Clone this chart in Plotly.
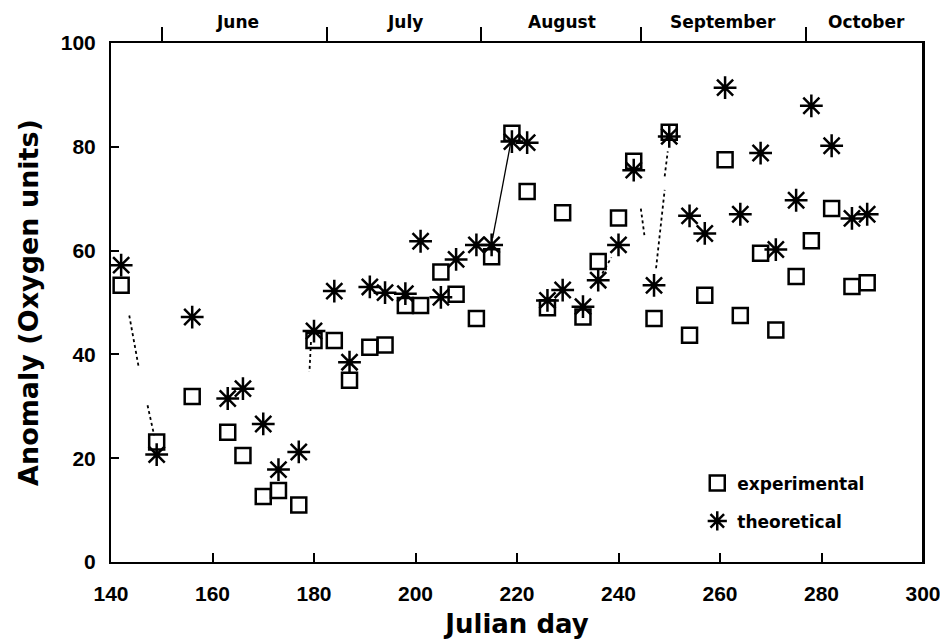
import plotly.graph_objects as go

# ---- data ----
days = [142, 149, 156, 163, 166, 170, 173, 177, 180, 184, 187, 191, 194, 198, 201,
        205, 208, 212, 215, 219, 222, 226, 229, 233, 236, 240, 243, 247, 250, 254,
        257, 261, 264, 268, 271, 275, 278, 282, 286, 289]
experimental = [53.3, 23.1, 31.9, 25.0, 20.5, 12.6, 13.8, 11.0, 42.7, 42.7, 35.0, 41.4,
                41.8, 49.4, 49.4, 55.9, 51.6, 46.9, 58.8, 82.6, 71.4, 49.0, 67.3, 47.2,
                57.9, 66.3, 77.2, 46.9, 82.8, 43.7, 51.4, 77.5, 47.5, 59.5, 44.7, 55.0,
                61.9, 68.1, 53.1, 53.8]
theoretical = [57.2, 20.7, 47.2, 31.5, 33.4, 26.6, 17.8, 21.2, 44.5, 52.2, 38.5, 53.0,
               51.9, 51.7, 61.8, 51.0, 58.3, 61.1, 61.1, 81.0, 80.8, 50.4, 52.4, 49.2,
               54.3, 61.1, 75.5, 53.3, 82.0, 66.7, 63.3, 91.4, 67.0, 78.8, 60.2, 69.7,
               87.9, 80.2, 66.2, 67.0]

# faint connecting-line fragments visible in the scan (start/end, data units)
dotted_x0 = [143.6, 147.2, 179.4, 244.4, 247.4, 249.1, 236.8]
dotted_y0 = [47.5, 30.2, 42.4, 68.1, 56.6, 74.3, 55.6]
dotted_x1 = [145.5, 148.5, 179.1, 245.1, 249.1, 249.7, 238.6]
dotted_y1 = [37.3, 24.4, 36.6, 63.0, 71.7, 79.1, 58.7]
solid_x = [215.2, 218.8]
solid_y = [62.4, 81.0]

month_names = ["June", "July", "August", "September", "October"]
month_bounds = [150, 182.5, 213, 244.5, 277]
month_label_pos = [165, 198.0, 228.8, 260.5, 288.9]

x_ticks = [140, 160, 180, 200, 220, 240, 260, 280, 300]
y_ticks = [0, 20, 40, 60, 80, 100]

NUMFONT = "Liberation Sans"
TXTFONT = "DejaVu Sans"
fig = go.Figure()

# dotted fragments
fx, fy = [], []
for a, b, c, d in zip(dotted_x0, dotted_y0, dotted_x1, dotted_y1):
    fx += [a, c, None]
    fy += [b, d, None]
fig.add_trace(go.Scatter(x=fx, y=fy, mode="lines", showlegend=False,
                         line=dict(color="black", width=1.8, dash="dot"),
                         hoverinfo="skip"))
fig.add_trace(go.Scatter(x=solid_x, y=solid_y, mode="lines", showlegend=False,
                         line=dict(color="black", width=1.3), hoverinfo="skip"))

fig.add_trace(go.Scatter(x=days, y=experimental, mode="markers", name="experimental",
                         legend="legend",
                         marker=dict(symbol="square-open", size=15, color="black",
                                     line=dict(width=2.5, color="black"))))
fig.add_trace(go.Scatter(x=days, y=theoretical, mode="markers", name="theoretical",
                         legend="legend2",
                         marker=dict(symbol="asterisk-open", size=19, color="black",
                                     line=dict(width=2.5, color="black"))))

# top month axis (ticks only)
fig.add_trace(go.Scatter(x=[140, 300], y=[None, None], xaxis="x2", showlegend=False,
                         hoverinfo="skip"))

for name, pos in zip(month_names, month_label_pos):
    fig.add_annotation(x=pos, y=1.0, xref="x", yref="paper", yshift=21,
                       text=name, showarrow=False, yanchor="middle",
                       font=dict(family=TXTFONT, size=17, color="black", weight="bold"))

legend_common = dict(xanchor="left", yanchor="top", bgcolor="rgba(0,0,0,0)",
                     borderwidth=0, itemsizing="trace",
                     font=dict(family=TXTFONT, size=17, color="black", weight="bold"))

# page body has an 8px margin, so the figure is slightly smaller than the window
fig.update_layout(
    width=940, height=635,
    margin=dict(l=103, r=25, t=35, b=81, autoexpand=False),
    plot_bgcolor="white", paper_bgcolor="white",
    xaxis=dict(range=[140, 300], tickvals=x_ticks, ticks="inside", ticklen=9,
               tickwidth=1.5, tickcolor="black", showgrid=False, zeroline=False,
               showline=True, linecolor="black", linewidth=2, mirror=False,
               ticklabelstandoff=12, automargin=False,
               tickfont=dict(family=NUMFONT, size=21, color="black", weight="bold"),
               title=dict(text="Julian day", standoff=11,
                          font=dict(family=TXTFONT, size=26, color="black", weight="bold"))),
    xaxis2=dict(range=[140, 300], overlaying="x", side="top", tickvals=month_bounds,
                ticktext=["" for _ in month_bounds], ticks="outside", ticklen=14,
                tickwidth=1.5, tickcolor="black", showgrid=False, zeroline=False,
                showline=True, linecolor="black", linewidth=2, automargin=False),
    yaxis=dict(range=[0, 100], tickvals=y_ticks, ticks="inside", ticklen=8,
               tickwidth=1.5, tickcolor="black", showgrid=False, zeroline=False,
               showline=True, linecolor="black", linewidth=2, mirror=True,
               ticklabelstandoff=9, automargin=False,
               tickfont=dict(family=NUMFONT, size=21, color="black", weight="bold"),
               title=dict(text="Anomaly (Oxygen units)", standoff=14,
                          font=dict(family=TXTFONT, size=27, color="black", weight="bold"))),
    legend=dict(x=0.722, y=0.186, **legend_common),
    legend2=dict(x=0.722, y=0.113, **legend_common),
    showlegend=True,
)
# right border line
fig.add_shape(type="line", xref="paper", yref="paper", x0=1, x1=1, y0=0, y1=1,
              line=dict(color="black", width=2))

fig.write_html("out.html")
